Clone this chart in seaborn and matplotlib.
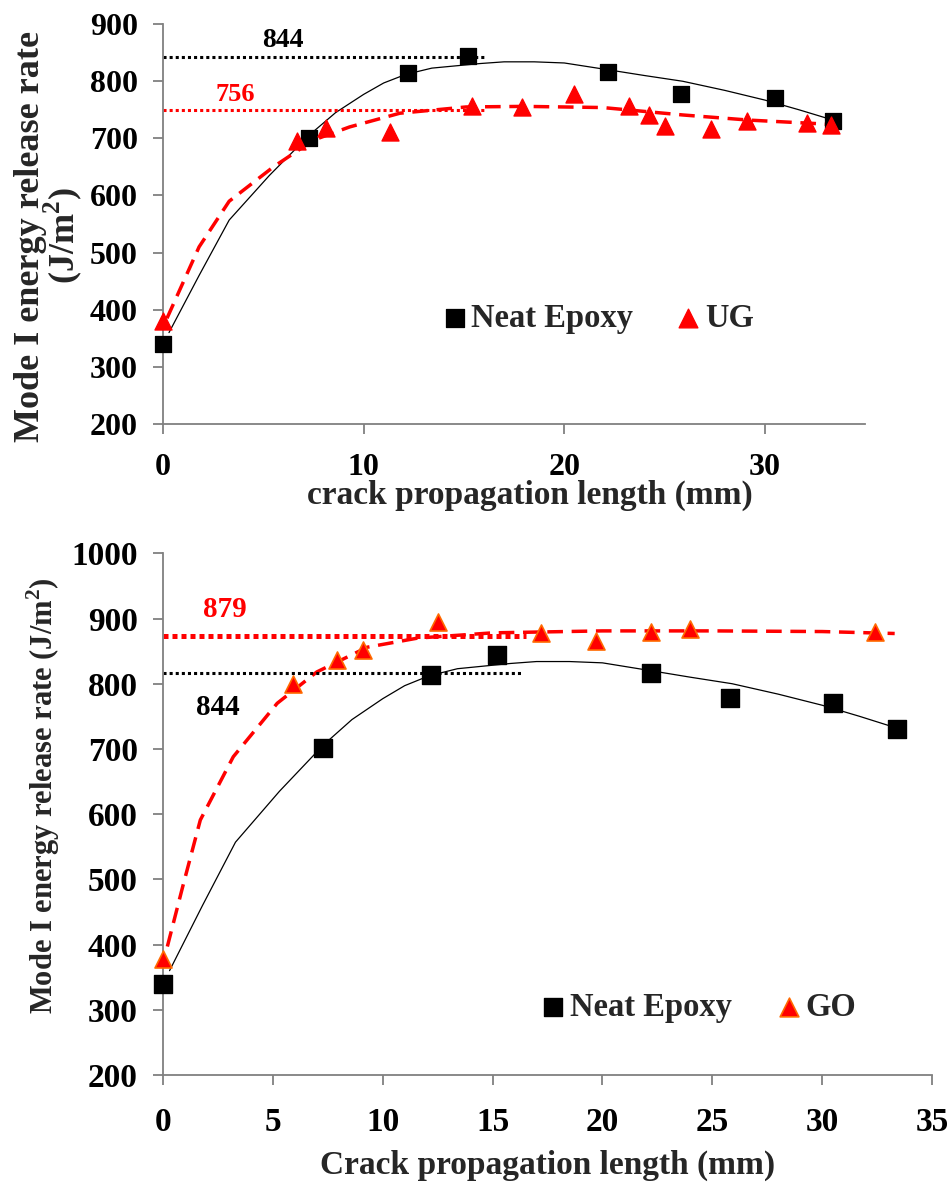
import numpy as np
import pandas as pd
import matplotlib
matplotlib.use("Agg")
import matplotlib.pyplot as plt
import seaborn as sns

# data
neat_x = [0, 7.3, 12.2, 15.2, 22.2, 25.8, 30.5, 33.4]
neat_y = [340, 701, 814, 844, 816, 778, 771, 731]

ug_x = [0, 6.7, 8.1, 11.3, 15.4, 17.9, 20.5, 23.2, 24.2, 25.0, 27.3, 29.1, 32.1, 33.3]
ug_y = [380, 696, 719, 711, 756, 755, 778, 756, 741, 721, 716, 730, 727, 724]

go_x = [0, 5.9, 7.9, 9.1, 12.5, 17.2, 19.7, 22.2, 24.0, 32.4]
go_y = [378, 800, 836, 851, 895, 878, 866, 880, 884, 880]

# trend curves as drawn in the figure
neat_fit_x = [0.3, 1.8, 3.3, 5.3, 7.3, 8.6, 10.0, 11.0, 12.1, 13.4, 15.8, 17.0,
              18.5, 20.0, 22.2, 24.0, 25.9, 28.0, 30.0, 31.7, 33.3]
neat_fit_y = [360, 460, 557, 635, 706, 745, 777, 797, 812, 823, 831, 834,
              834, 832, 820, 810, 800, 784, 767, 750, 733]

ug_fit_x = [0.2, 1.8, 3.3, 5.5, 7.5, 9.3, 11.8, 15.1, 18.0, 21.9, 25.9, 29.2, 32.5, 33.4]
ug_fit_y = [385, 510, 590, 650, 697, 720, 744, 755, 756, 754, 741, 732, 726, 724]

go_fit_x = [0.2, 0.9, 1.7, 3.2, 5.2, 7.0, 9.3, 11.6, 15.0, 20.0, 25.0, 30.0, 33.3]
go_fit_y = [397, 489, 591, 688, 770, 818, 856, 870, 878, 881, 881, 880, 877]

# average plateau lines (value, end of the dotted line)
top_avg_neat, top_avg_ug = 842, 749
bot_avg_neat, bot_avg_go = 816, 873
top_avg_end = 16
bot_avg_neat_end, bot_avg_go_end = 16.3, 16.5

sns.set_style("ticks")
plt.rcParams['font.family'] = ['Liberation Serif', 'DejaVu Serif']
plt.rcParams['font.weight'] = 'bold'
plt.rcParams['mathtext.fontset'] = 'custom'
plt.rcParams['mathtext.rm'] = 'Liberation Serif:bold'
plt.rcParams['mathtext.bf'] = 'Liberation Serif:bold'

fig = plt.figure(figsize=(9.53, 11.83), dpi=100)
ax1 = fig.add_axes([0.171, 0.6416, 0.737, 0.338])
ax2 = fig.add_axes([0.171, 0.0913, 0.807, 0.441])

red = "#ff0000"
orange = "#ff6a00"


def style_axes(ax, fs, xpad, ypad):
    for s in ["top", "right"]:
        ax.spines[s].set_visible(False)
    for s in ["left", "bottom"]:
        ax.spines[s].set_color("#808080")
        ax.spines[s].set_linewidth(1.3)
    ax.tick_params(axis="both", colors="#808080", length=7, width=1.3,
                   labelcolor="black", labelsize=fs)
    ax.tick_params(axis="x", pad=xpad)
    ax.tick_params(axis="y", pad=ypad)
    for lab in ax.get_xticklabels() + ax.get_yticklabels():
        lab.set_fontweight("bold")


# ---- top panel: neat epoxy vs UG ----
sns.lineplot(x=neat_fit_x, y=neat_fit_y, ax=ax1, color="black", lw=0.9, sort=False, estimator=None)
sns.lineplot(x=ug_fit_x, y=ug_fit_y, ax=ax1, color=red, lw=2.5, sort=False, estimator=None,
             linestyle=(0, (4.5, 2.5)))
ax1.plot([0, top_avg_end], [top_avg_neat] * 2, color="black", lw=2.2, linestyle=(0, (1, 1)))
ax1.plot([0, top_avg_end], [top_avg_ug] * 2, color=red, lw=2.2, linestyle=(0, (1, 1)))
sns.scatterplot(x=neat_x, y=neat_y, ax=ax1, marker="s", s=130, color="black",
                edgecolor="black", label="Neat Epoxy", zorder=5, clip_on=False)
sns.scatterplot(x=ug_x, y=ug_y, ax=ax1, marker="^", s=150, color=red,
                edgecolor=red, label="UG", zorder=5, clip_on=False)
ax1.text(6.0, 872, "844", fontsize=20, fontweight="bold", color="black", ha="center", va="center")
ax1.text(3.6, 777, "756", fontsize=19, fontweight="bold", color=red, ha="center", va="center")
ax1.set_xlim(0, 35)
ax1.set_ylim(200, 900)
ax1.set_xticks([0, 10, 20, 30])
ax1.set_yticks(range(200, 901, 100))
ax1.set_xlabel("crack propagation length (mm)", fontsize=24, fontweight="bold")
ax1.set_ylabel("Mode I energy release rate\n(J/m$^{2}$)", fontsize=26,
               fontweight="bold", linespacing=0.85)
ax1.xaxis.set_label_coords(0.523, -0.14)
ax1.yaxis.set_label_coords(-0.112, 0.47)
ax1.legend(loc="center", bbox_to_anchor=(0.62, 0.265), ncol=2, frameon=False,
           prop={"size": 23.5, "weight": "bold"}, handletextpad=0.15, columnspacing=1.35,
           handlelength=0.7, markerscale=1.1)
style_axes(ax1, 23, 14, 11)

# ---- bottom panel: neat epoxy vs GO ----
sns.lineplot(x=neat_fit_x, y=neat_fit_y, ax=ax2, color="black", lw=0.9, sort=False, estimator=None)
sns.lineplot(x=go_fit_x, y=go_fit_y, ax=ax2, color=red, lw=2.5, sort=False, estimator=None,
             linestyle=(0, (4.5, 2.5)))
ax2.plot([0, bot_avg_neat_end], [bot_avg_neat] * 2, color="black", lw=2.2, linestyle=(0, (1, 1)))
ax2.plot([0, bot_avg_go_end], [bot_avg_go] * 2, color=red, lw=3.6, linestyle=(0, (1, 0.8)))
sns.scatterplot(x=neat_x, y=neat_y, ax=ax2, marker="s", s=150, color="black",
                edgecolor="black", label="Neat Epoxy", zorder=5, clip_on=False)
sns.scatterplot(x=go_x, y=go_y, ax=ax2, marker="^", s=150, color=red,
                edgecolor=orange, linewidth=1.2, label="GO", zorder=5, clip_on=False)
ax2.text(2.8, 914, "879", fontsize=21, fontweight="bold", color=red, ha="center", va="center")
ax2.text(2.5, 764, "844", fontsize=21, fontweight="bold", color="black", ha="center", va="center")
ax2.set_xlim(0, 35)
ax2.set_ylim(200, 1000)
ax2.set_xticks(range(0, 36, 5))
ax2.set_yticks(range(200, 1001, 100))
ax2.set_xlabel("Crack propagation length (mm)", fontsize=24, fontweight="bold")
ax2.set_ylabel("Mode I energy release rate (J/m$^{2}$)", fontsize=22, fontweight="bold")
ax2.xaxis.set_label_coords(0.5, -0.144)
ax2.yaxis.set_label_coords(-0.131, 0.536)
ax2.legend(loc="center", bbox_to_anchor=(0.697, 0.13), ncol=2, frameon=False,
           prop={"size": 23.5, "weight": "bold"}, handletextpad=0.15, columnspacing=1.4,
           handlelength=0.7, markerscale=1.1)
style_axes(ax2, 24, 16, 11)

plt.savefig("out.png", dpi=100)
